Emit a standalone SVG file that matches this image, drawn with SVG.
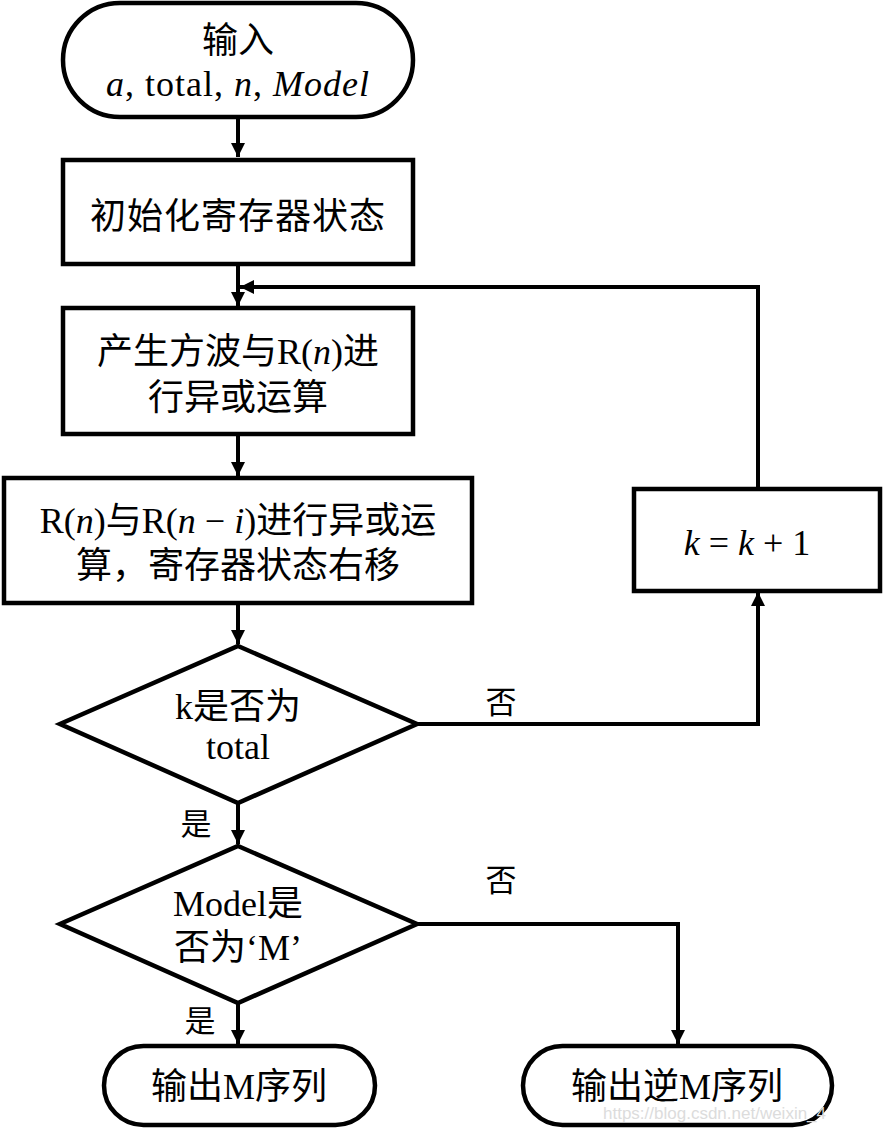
<svg xmlns="http://www.w3.org/2000/svg" width="884" height="1131" viewBox="0 0 884 1131">
<defs>
<marker id="arr" markerUnits="userSpaceOnUse" markerWidth="14" markerHeight="14" refX="14" refY="7" orient="auto">
<path d="M0,0 L14,7 L0,14 z" fill="#000"/>
</marker>
<style>
.shape{fill:#fff;stroke:#000;stroke-width:4.5}
.conn{fill:none;stroke:#000;stroke-width:4}
.t{font-family:"Noto Sans CJK SC","Liberation Serif",serif;font-size:36px;fill:#000;text-anchor:middle}
.lat{font-family:"Liberation Serif",serif}
.it{font-family:"Liberation Serif",serif;font-style:italic}
.lbl{font-family:"Noto Sans CJK SC",sans-serif;font-size:31px;fill:#000;text-anchor:middle}
.wm{font-family:"Liberation Sans",Arial,sans-serif;font-size:17px;fill:#dcdcdc}
</style>
</defs>
<rect width="884" height="1131" fill="#fff"/>
<g id="connectors">
<path class="conn" d="M238,118 V157" marker-end="url(#arr)"/>
<path class="conn" d="M238,265 V306" marker-end="url(#arr)"/>
<path class="conn" d="M758,488 V287 H240" marker-end="url(#arr)"/>
<path class="conn" d="M238,434 V476" marker-end="url(#arr)"/>
<path class="conn" d="M238,603 V644" marker-end="url(#arr)"/>
<path class="conn" d="M417,724 H758 V592" marker-end="url(#arr)"/>
<path class="conn" d="M238,803 V844" marker-end="url(#arr)"/>
<path class="conn" d="M417,924 H678 V1044" marker-end="url(#arr)"/>
<path class="conn" d="M238,1003 V1044" marker-end="url(#arr)"/>
<text class="lbl" x="501" y="713">否</text>
<text class="lbl" x="196" y="835">是</text>
<text class="lbl" x="501" y="891">否</text>
<text class="lbl" x="200" y="1032">是</text>
</g>
<g id="start">
<rect class="shape" x="63" y="3" width="350" height="114" rx="57" ry="57"/>
<text class="t" x="238" y="53">输入</text>
<text class="t" x="238" y="96" font-size="37" letter-spacing="1"><tspan class="it">a</tspan><tspan class="lat">, total, </tspan><tspan class="it">n</tspan><tspan class="lat">, </tspan><tspan class="it">Model</tspan></text>
</g>
<g id="init">
<rect class="shape" x="63" y="160" width="350" height="104"/>
<text class="t" x="238" y="229" letter-spacing="1">初始化寄存器状态</text>
</g>
<g id="square">
<rect class="shape" x="63" y="308" width="350" height="126"/>
<text class="t" x="238" y="364">产生方波与<tspan class="lat">R(</tspan><tspan class="it">n</tspan><tspan class="lat">)</tspan>进</text>
<text class="t" x="238" y="410">行异或运算</text>
</g>
<g id="xor">
<rect class="shape" x="4" y="478" width="468" height="125"/>
<text class="t" x="238" y="533"><tspan class="lat">R(</tspan><tspan class="it">n</tspan><tspan class="lat">)</tspan>与<tspan class="lat">R(</tspan><tspan class="it">n</tspan><tspan class="lat"> − </tspan><tspan class="it">i</tspan><tspan class="lat">)</tspan>进行异或运</text>
<text class="t" x="238" y="578">算，寄存器状态右移</text>
</g>
<g id="inc">
<rect class="shape" x="634" y="489" width="246" height="102"/>
<text class="t" x="747" y="555" font-size="40"><tspan class="it">k</tspan><tspan class="lat"> = </tspan><tspan class="it">k</tspan><tspan class="lat"> + 1</tspan></text>
</g>
<g id="check-total">
<polygon class="shape" points="238,646 417,724 238,803 60,724"/>
<text class="t" x="238" y="719"><tspan class="lat">k</tspan>是否为</text>
<text class="t" x="238" y="759"><tspan class="lat">total</tspan></text>
</g>
<g id="check-model">
<polygon class="shape" points="238,846 417,924 238,1003 60,924"/>
<text class="t" x="238" y="916"><tspan class="lat">Model</tspan>是</text>
<text class="t" x="238" y="960">否为<tspan class="lat">‘M’</tspan></text>
</g>
<g id="out-m">
<rect class="shape" x="104" y="1046" width="271" height="79" rx="39.5" ry="39.5"/>
<text class="t" x="239" y="1099">输出<tspan class="lat">M</tspan>序列</text>
</g>
<g id="out-inv-m">
<rect class="shape" x="523" y="1046" width="309" height="79" rx="39.5" ry="39.5"/>
<text class="t" x="677" y="1099">输出逆<tspan class="lat">M</tspan>序列</text>
<text class="wm" x="603" y="1119">https://blog.csdn.net/weixin_4</text>
</g>
</svg>
